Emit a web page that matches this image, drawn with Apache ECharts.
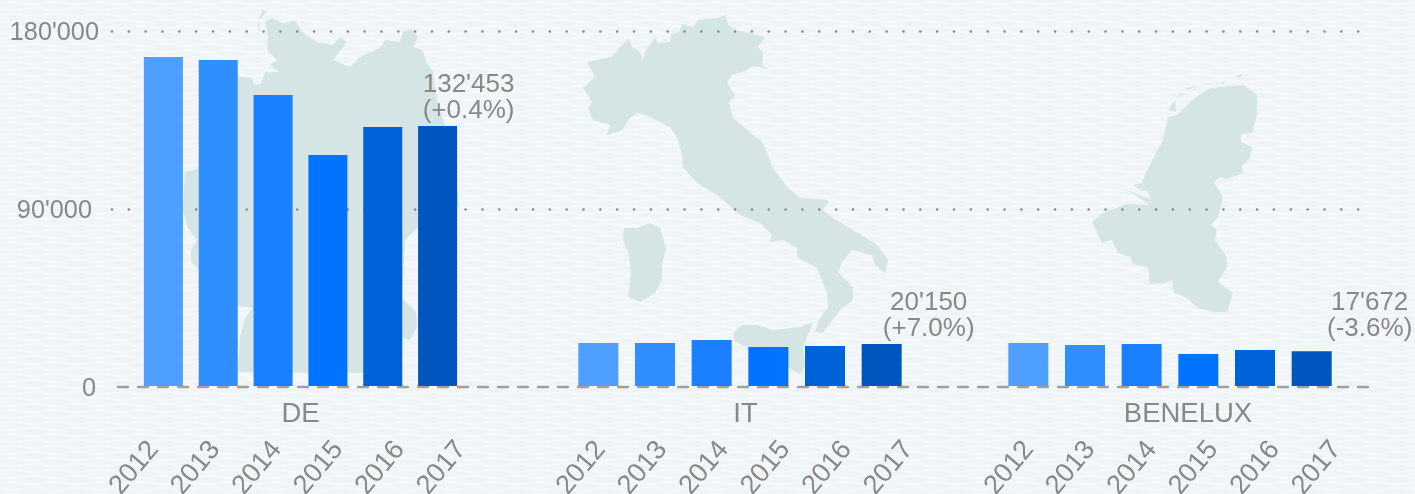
<!DOCTYPE html>
<html>
<head>
<meta charset="utf-8">
<title>Sales by region</title>
<style>
  html, body { margin: 0; height: 100%; overflow: hidden; }
  body {
    background-color: #eff4f6;
    background-image: url("data:image/svg+xml,%3Csvg xmlns='http://www.w3.org/2000/svg' width='44' height='12'%3E%3Cpath d='M0 3q11-3 22 0t22 0M-22 9q11-3 22 0t22 0 22 0' fill='none' stroke='%23fff' stroke-opacity='.4' stroke-width='2.5'/%3E%3C/svg%3E");
  }
  #chart { width: 1415px; height: 494px; }
</style>
</head>
<body>
<div id="chart"></div>
<script src="https://cdn.jsdelivr.net/npm/echarts@6/dist/echarts.min.js"></script>
<script>
const years = ['2012', '2013', '2014', '2015', '2016', '2017']
const regions = ['DE', 'IT', 'BENELUX']
const deValues = [166800, 165300, 147500, 117100, 131300, 131800]
const itValues = [21800, 21800, 23300, 19800, 20300, 21300]
const beneluxValues = [21800, 20800, 21300, 16200, 18300, 17672]
const lastLabels = ["132'453\n(+0.4%)", "20'150\n(+7.0%)", "17'672\n(-3.6%)"]
const yTicks = [0, 90000, 180000]
const barColors = ['#4f9fff', '#2f8fff', '#1a80ff', '#0073ff', '#0062d9', '#0055bf']

const textColor = '#888888'
const fontFamily = '"Liberation Sans", Arial, sans-serif'
const regionValues = [deValues, itValues, beneluxValues]

// pixel layout of each group: bars and rotated years do not share one spacing
const barGrids = [
  { left: 136, width: 329, barWidth: 39, namePad: 0, labelOffset: [31, -2] },
  { left: 570, width: 340, barWidth: 40, namePad: 11, labelOffset: [47, -2] },
  { left: 1000, width: 340, barWidth: 40, namePad: 36, labelOffset: [58, -9] }
]
const yearGridLefts = [123, 570, 998]

// background maps, traced by hand
const maps = [
  // Germany
  [[265,22],[272,18],[282,23],[295,21],[303,33],[317,42],[333,45],[340,37],[347,42],[342,48],[333,60],[350,67],[360,57],[380,48],[385,40],[400,42],[403,32],[412,29],[418,37],[413,47],[422,50],[427,63],[433,72],[437,100],[445,125],[450,160],[458,195],[459,208],[445,220],[417,228],[405,240],[402,298],[416,312],[417,327],[410,340],[403,338],[365,373],[238,372],[240,337],[245,318],[253,308],[238,306],[199,285],[199,270],[191,262],[191,250],[197,240],[188,228],[183,210],[185,172],[199,168],[238,76],[252,78],[254,85],[261,84],[265,72],[280,72],[270,65],[277,60],[267,50],[268,37]],
  [[258,25],[262,10],[268,11],[259,20],[260,30],[259,32]],
  // Italy
  [[587,62],[612,57],[620,47],[629,39],[632,47],[640,52],[643,61],[645,52],[652,42],[656,37],[657,43],[670,42],[671,34],[679,32],[682,24],[693,27],[698,20],[717,18],[726,15],[728,25],[737,30],[765,37],[758,47],[763,53],[762,65],[769,70],[760,67],[752,66],[747,70],[732,75],[727,83],[735,95],[729,102],[733,118],[757,138],[763,143],[773,168],[787,187],[800,198],[828,200],[828,203],[823,210],[833,218],[853,230],[877,245],[888,260],[885,273],[875,265],[872,255],[852,250],[842,262],[838,272],[853,287],[853,300],[840,310],[830,323],[823,333],[815,332],[820,318],[828,307],[827,293],[817,268],[797,257],[797,248],[783,240],[770,242],[772,235],[760,223],[740,215],[723,200],[717,195],[700,185],[692,178],[683,167],[682,155],[677,137],[670,127],[650,117],[638,113],[630,118],[622,130],[607,135],[610,125],[593,120],[588,108],[592,102],[583,88],[595,77]],
  [[624,228],[637,228],[650,223],[660,228],[666,248],[662,265],[662,280],[655,293],[640,302],[628,297],[631,273],[629,255],[623,240]],
  [[733,333],[742,325],[757,325],[773,330],[800,327],[813,322],[803,347],[805,367],[800,374],[787,367],[767,353],[747,347],[735,342]],
  // Benelux
  [[1243,85],[1257,95],[1257,115],[1252,133],[1241,134],[1241,142],[1252,147],[1250,158],[1242,165],[1243,173],[1227,179],[1220,177],[1214,182],[1223,197],[1218,217],[1211,225],[1217,230],[1215,240],[1227,257],[1227,267],[1218,282],[1233,293],[1227,312],[1215,312],[1198,308],[1187,298],[1174,293],[1172,280],[1165,283],[1150,284],[1148,267],[1133,264],[1130,257],[1118,253],[1112,240],[1102,243],[1092,222],[1103,213],[1127,204],[1150,205],[1132,193],[1125,195],[1132,192],[1152,200],[1142,182],[1148,168],[1163,140],[1168,117],[1177,115],[1195,98],[1210,88]],
  [[1168,110],[1175,100],[1176,112]],
  [[1177,97],[1183,92],[1182,95]],
  [[1186,88],[1200,85],[1187,90]],
  [[1202,84],[1213,83],[1203,85]],
  [[1220,83],[1227,81],[1222,84]],
  [[1236,77],[1243,73],[1240,78]],
  [[1133,185],[1142,183],[1148,190],[1142,191]]
]

const gridTop = 31

function hiddenY (gridIndex) {
  return { gridIndex, type: 'value', min: 0, max: 180000, interval: 90000, show: false }
}

const grids = [{ left: 112, width: 1256, top: gridTop, height: 356, outerBoundsMode: 'none' }]
const xAxes = [{
  gridIndex: 0,
  type: 'category',
  data: [''],
  offset: 1,
  axisTick: { show: false },
  axisLabel: { show: false },
  axisLine: {
    lineStyle: { color: '#a0a0a0', width: 2.3, type: [10, 10], dashOffset: 14 }
  }
}]
const yAxes = [{
  gridIndex: 0,
  type: 'value',
  min: yTicks[0],
  max: yTicks[2],
  interval: yTicks[1],
  axisLine: { show: false },
  axisTick: { show: false },
  axisLabel: {
    margin: 13,
    formatter (v) {
      const text = String(v).replace(/\B(?=(\d{3})+$)/g, "'")
      return '{t' + yTicks.indexOf(v) + '|' + text + '}'
    },
    rich: {
      t0: { color: textColor, fontSize: 25.3, fontFamily, padding: [4, 3, 0, 0] },
      t1: { color: textColor, fontSize: 25.3, fontFamily, padding: [4, 7, 0, 0] },
      t2: { color: textColor, fontSize: 25.3, fontFamily, padding: [4, 0, 0, 0] }
    }
  },
  splitLine: {
    showMinLine: false,
    lineStyle: { color: '#888888', width: 2.6, type: [0.01, 16.83], cap: 'round' }
  }
}]
const series = []

regions.forEach((region, i) => {
  const g = barGrids[i]
  // bars
  grids.push({ left: g.left, width: g.width, top: gridTop, height: 355, outerBoundsMode: 'none' })
  const barIdx = grids.length - 1
  xAxes.push({
    gridIndex: barIdx,
    type: 'category',
    data: years,
    name: region,
    nameLocation: 'middle',
    nameGap: 14,
    nameTextStyle: { color: textColor, fontSize: 27.5, fontFamily, padding: [0, 0, 0, g.namePad] },
    axisLine: { show: false },
    axisTick: { show: false },
    axisLabel: { show: false }
  })
  yAxes.push(hiddenY(barIdx))
  series.push({
    type: 'bar',
    xAxisIndex: barIdx,
    yAxisIndex: barIdx,
    barWidth: g.barWidth,
    data: regionValues[i].map((value, j) => ({
      value,
      itemStyle: { color: barColors[j] },
      label: j === years.length - 1 ? {
        show: true,
        position: 'top',
        distance: 0,
        offset: g.labelOffset,
        formatter: lastLabels[i],
        color: textColor,
        fontSize: 26,
        lineHeight: 26,
        fontFamily,
        align: 'center'
      } : { show: false }
    }))
  })
  // rotated years, spaced wider than the bars
  grids.push({ left: yearGridLefts[i], width: 369, top: gridTop, height: 356, outerBoundsMode: 'none' })
  const yearIdx = grids.length - 1
  xAxes.push({
    gridIndex: yearIdx,
    type: 'category',
    data: years,
    axisLine: { show: false },
    axisTick: { show: false },
    axisLabel: {
      interval: 0,
      rotate: 50,
      margin: 58,
      color: textColor,
      fontSize: 27,
      fontFamily
    }
  })
  yAxes.push(hiddenY(yearIdx))
})

const chart = echarts.init(document.getElementById('chart'))
chart.setOption({
  animation: false,
  backgroundColor: 'transparent',
  grid: grids,
  xAxis: xAxes,
  yAxis: yAxes,
  series,
  graphic: {
    elements: maps.map(points => ({
      type: 'polygon',
      silent: true,
      z: -1,
      shape: { points },
      style: { fill: '#d5e5e5' }
    }))
  }
})
</script>
</body>
</html>
